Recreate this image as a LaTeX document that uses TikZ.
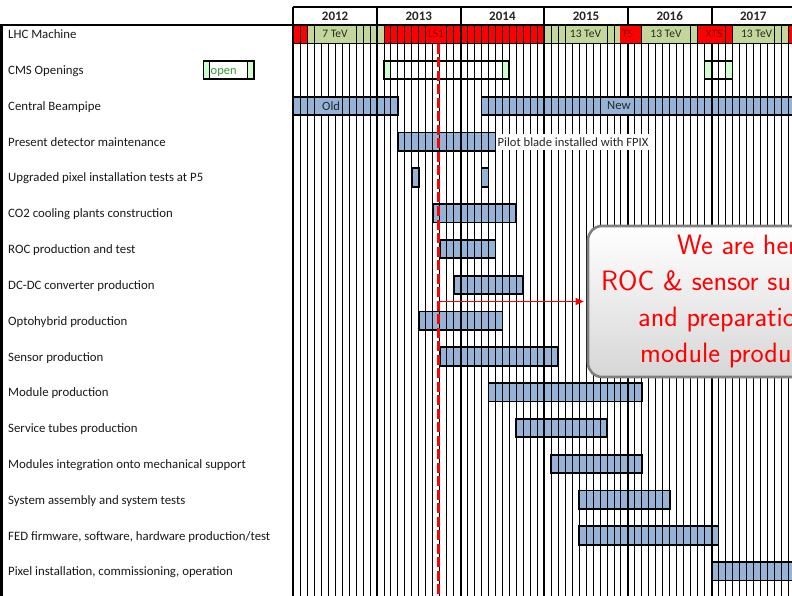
\documentclass[tikz,border=0pt]{standalone}
\usepackage{fontspec}
\setmainfont{Carlito}
\usetikzlibrary{arrows.meta}
\definecolor{lhcred}{RGB}{255,0,0}
\definecolor{lhcgreen}{RGB}{196,215,155}
\definecolor{opengreen}{RGB}{204,255,204}
\definecolor{opentext}{RGB}{51,153,51}
\definecolor{barblue}{RGB}{149,179,215}
\definecolor{lhcdark}{RGB}{128,0,0}
\definecolor{calloutgray}{RGB}{128,128,128}
\tikzset{
  lab/.style={font=\fontsize{12.8}{14}\selectfont, inner sep=0pt, anchor=base west, text=black!90},
  yearlab/.style={font=\bfseries\fontsize{13}{15}\selectfont, inner sep=0pt, text=black!85},
  lhclab/.style={font=\fontsize{11.5}{13}\selectfont, inner xsep=2pt, inner ysep=0pt, minimum height=16.5pt, text=black!85},
  lhcstop/.style={lhclab, fill=lhcred, text=lhcdark},
  lhcrun/.style={lhclab, fill=lhcgreen},
  gridthin/.style={line width=0.8pt},
  gridthick/.style={line width=2pt},
  barborder/.style={draw=black, line width=1.8pt},
  bartext/.style={font=\fontsize{12.6}{14}\selectfont, inner xsep=2pt, inner ysep=0pt, minimum height=16pt, text=black!85},
  callout/.style={draw=calloutgray, line width=2.6pt, rounded corners=14pt,
    top color=white, bottom color=black!16, minimum width=310pt, minimum height=151pt,
    align=center, text=red, inner sep=0pt, font=\sffamily\fontsize{28}{36}\selectfont},
  nowline/.style={red, line width=2.8pt, dash pattern=on 10pt off 3.5pt},
  nowarrow/.style={red, line width=1pt, -{Triangle[length=8pt,width=7pt]}, shorten >=3pt},
}
\def\barlist{2/0/15, 2/27/80, 3/15/29, 4/17/18, 4/27/28, 5/20/32, 6/21/29, 7/23/33, 8/18/30, 9/21/38, 10/28/50, 11/32/45, 12/37/50, 13/41/54, 14/41/61, 15/60/80}
\begin{document}
\begin{tikzpicture}[x=1pt,y=-1pt]
\useasboundingbox (0,0) rectangle (792,596);
\clip (0,0) rectangle (792,596);
\fill[white] (0,0) rectangle (792,596);
% ---------- chart area in month units ----------
\begin{scope}[shift={(293.3pt,0pt)}, x=6.97pt]
  % LHC row
  \fill[lhcred]   (0,25) rectangle (2,43);
  \fill[lhcgreen] (2,25) rectangle (13,43);
  \fill[lhcred]   (13,25) rectangle (36,43);
  \fill[lhcgreen] (36,25) rectangle (47,43);
  \fill[lhcred]   (47,25) rectangle (50,43);
  \fill[lhcgreen] (50,25) rectangle (58,43);
  \fill[lhcred]   (58,25) rectangle (63,43);
  \fill[lhcgreen] (63,25) rectangle (71,43);
  \fill[lhcred]   (71,25) rectangle (80,43);
  % CMS openings
  \fill[opengreen] (13,61) rectangle (14,79);
  \fill[opengreen] (30,61) rectangle (31,79);
  \fill[opengreen] (59,61) rectangle (60,79);
  \fill[opengreen] (62,61) rectangle (63,79);
  % bars
  \foreach \r/\a/\b in \barlist {
    \fill[barblue] (\a,{34.3+35.8*\r-9.2}) rectangle (\b,{34.3+35.8*\r+9.2});
  }
  % month grid
  \foreach \m in {0,...,72} { \draw[gridthin] (\m,25) -- (\m,596); }
  \foreach \m in {0,12,...,72} { \draw[gridthick] (\m,7) -- (\m,596); }
  \draw[line width=1.5pt] (0,7) -- (80,7);
  \draw[gridthin] (0,43) -- (80,43);
  % borders
  \draw[barborder] (13,61) rectangle (31,79);
  \draw[barborder] (59,61) rectangle (63,79);
  \foreach \r/\a/\b in \barlist {
    \draw[barborder] (\a,{34.3+35.8*\r-9.2}) rectangle (\b,{34.3+35.8*\r+9.2});
  }
  % years
  \node[yearlab] (y2012) at (6,16) {2012};
  \node[yearlab] (y2013) at (18,16) {2013};
  \node[yearlab] (y2014) at (30,16) {2014};
  \node[yearlab] (y2015) at (42,16) {2015};
  \node[yearlab] (y2016) at (54,16) {2016};
  \node[yearlab] (y2017) at (66,16) {2017};
\end{scope}
% header and label column frame
\draw[gridthick] (0,25) -- (792,25);
\draw[line width=2.6pt] (1.3,25) -- (1.3,596);
% LHC labels
\node[lhcrun]  (r7)   at (335,34.3)   {7 TeV};
\node[lhcstop] (ls1)  at (436,34.3)   {LS1};
\node[lhcrun]  (r13a) at (585.5,34.3) {13 TeV};
\node[lhcstop] (ts)   at (627.5,34.3) {TS};
\node[lhcrun]  (r13b) at (666,34.3)   {13 TeV};
\node[lhcstop] (xts)  at (714,34.3)   {XTS};
\node[lhcrun]  (r13c) at (756.7,34.3) {13 TeV};
% text on bars
\node[bartext, fill=barblue, anchor=west] (old) at (320,105.9) {Old};
\node[bartext, fill=barblue, anchor=west] (new) at (605,105.9) {New};
\node[bartext, fill=white, anchor=west] (pilot) at (495.5,141.7) {Pilot blade installed with FPIX};
% legend
\fill[opengreen] (203.5,61) rectangle (209,79);
\fill[opengreen] (247,61) rectangle (254,79);
\draw[gridthin] (209,61) -- (209,79);
\draw[gridthin] (247,61) -- (247,79);
\draw[barborder] (203.5,61) rectangle (254,79);
\node[lab, text=opentext, font=\fontsize{12.5}{14}\selectfont] (open) at (210.5,74.5) {open};
% row labels
\node[lab] (l0)  at (8,38.8)  {LHC Machine};
\node[lab] (l1)  at (8,74.6)  {CMS Openings};
\node[lab] (l2)  at (8,110.4) {Central Beampipe};
\node[lab] (l3)  at (8,146.2) {Present detector maintenance};
\node[lab] (l4)  at (8,182.0) {Upgraded pixel installation tests at P5};
\node[lab] (l5)  at (8,217.8) {CO2 cooling plants construction};
\node[lab] (l6)  at (8,253.6) {ROC production and test};
\node[lab] (l7)  at (8,289.4) {DC-DC converter production};
\node[lab] (l8)  at (8,325.2) {Optohybrid production};
\node[lab] (l9)  at (8,361.0) {Sensor production};
\node[lab] (l10) at (8,396.8) {Module production};
\node[lab] (l11) at (8,432.6) {Service tubes production};
\node[lab] (l12) at (8,468.4) {Modules integration onto mechanical support};
\node[lab] (l13) at (8,504.2) {System assembly and system tests};
\node[lab] (l14) at (8,540.0) {FED firmware, software, hardware production/test};
\node[lab] (l15) at (8,575.8) {Pixel installation, commissioning, operation};
% now line, callout and arrow
\coordinate (nowtop) at (438.3,44);
\coordinate (nowbot) at (438.3,600);
\coordinate (nowmid) at (438.3,301.5);
\draw[nowline] (nowtop) -- (nowbot);
\node[callout] (note) at (743,301.5) {We are here\\ROC \& sensor submission\\and preparation for\\module production};
\draw[nowarrow] (nowmid) -- (note.west);
\end{tikzpicture}
\end{document}
